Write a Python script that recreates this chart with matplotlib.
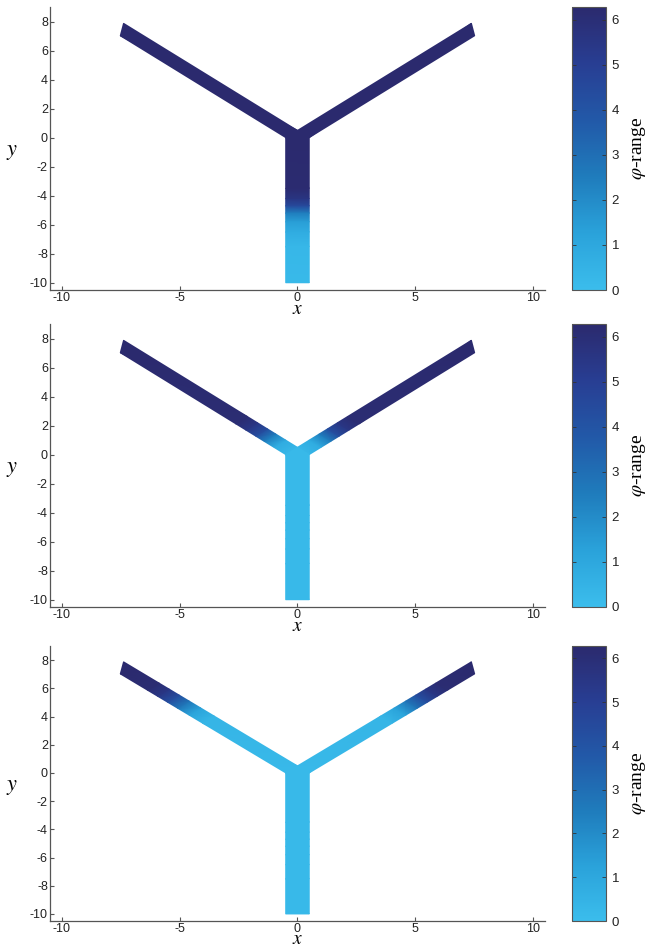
import numpy as np
import matplotlib
matplotlib.use('Agg')
import matplotlib.pyplot as plt
from matplotlib.colors import LinearSegmentedColormap
from matplotlib.tri import Triangulation

plt.rcParams['font.family'] = ['Liberation Sans', 'DejaVu Sans']
plt.rcParams['mathtext.fontset'] = 'stix'
plt.rcParams['axes.unicode_minus'] = False

# phase values read along each edge (distance from the junction)
stem_s = [0, 3.5, 4.2, 4.7, 5.2, 5.8, 6.5, 7.5, 10]
stem_phi = [
    [6.28, 6.2, 5.6, 4.5, 2.5, 1.4, 0.8, 0.3, 0.2],
    [0.2, 0.2, 0.2, 0.2, 0.2, 0.2, 0.2, 0.2, 0.2],
    [0.2, 0.2, 0.2, 0.2, 0.2, 0.2, 0.2, 0.2, 0.2],
]
arm_s = [
    [0, 10.25],
    [0, 0.7, 1.3, 1.8, 2.4, 3.0, 10.25],
    [0, 5.0, 5.8, 6.5, 7.1, 7.7, 8.3, 10.25],
]
arm_phi = [
    [6.28, 6.28],
    [0.3, 0.8, 2.5, 4.3, 5.5, 6.1, 6.28],
    [0.2, 0.4, 1.2, 2.8, 4.3, 5.5, 6.1, 6.28],
]
cbar_ticks = [0, 1, 2, 3, 4, 5, 6]
xticks = [-10, -5, 0, 5, 10]
yticks = [-10, -8, -6, -4, -2, 0, 2, 4, 6, 8]

cmap = LinearSegmentedColormap.from_list(
    'phase', ['#3bbdec', '#2aa2da', '#1f7cbc', '#2259a8', '#283e93', '#2b2a6e'])
vmax = 2 * np.pi

# geometry of the star graph: start, end, half width, end-cap corners
edges = [
    ((0, 0), (0, -10), 0.5, None),
    ((-0.25, 0.25), (-7.45, 7.45), 0.3536, ((-7.38, 7.88), (-7.52, 7.02))),
    ((0.25, 0.25), (7.45, 7.45), 0.3536, ((7.38, 7.88), (7.52, 7.02))),
]


def strip(p0, p1, hw, cap, s, phi):
    p0 = np.array(p0, float)
    p1 = np.array(p1, float)
    L = np.linalg.norm(p1 - p0)
    u = (p1 - p0) / L
    n = np.array([-u[1], u[0]])
    xs, ys, cs, tris = [], [], [], []
    s = np.clip(np.array(s, float), 0, L)
    for i, (si, ph) in enumerate(zip(s, phi)):
        c = p0 + u * si
        pts = [c + n * hw, c - n * hw]
        if cap is not None and i == len(s) - 1:
            a, b = np.array(cap[0]), np.array(cap[1])
            pts = [a, b] if np.dot(a - c, n) > 0 else [b, a]
        for v in pts:
            xs.append(v[0])
            ys.append(v[1])
            cs.append(ph)
        if i > 0:
            a = 2 * (i - 1)
            tris.append([a, a + 1, a + 2])
            tris.append([a + 1, a + 3, a + 2])
    return np.array(xs), np.array(ys), np.array(tris), np.array(cs)


fig = plt.figure(figsize=(6.59, 9.49), dpi=100)
rows = [(0.6944, 0.2982), (0.3604, 0.2982), (0.0295, 0.2898)]

for k, (b, h) in enumerate(rows):
    ax = fig.add_axes([0.0759, b, 0.751, h])
    cax = fig.add_axes([0.868, b, 0.0516, h])

    parts = [(edges[0], stem_s, stem_phi[k]),
             (edges[1], arm_s[k], arm_phi[k]),
             (edges[2], arm_s[k], arm_phi[k])]
    for (p0, p1, hw, cap), s, phi in parts:
        x, y, t, c = strip(p0, p1, hw, cap, s, phi)
        ax.tripcolor(Triangulation(x, y, t), c, shading='gouraud',
                     cmap=cmap, vmin=0, vmax=vmax, antialiased=True)
    # junction wedge
    jx = np.array([-0.5, 0.5, 0.0])
    jy = np.array([0.0, 0.0, 0.5])
    m = ax.tripcolor(Triangulation(jx, jy, [[0, 1, 2]]),
                     np.full(3, stem_phi[k][0]), shading='gouraud',
                     cmap=cmap, vmin=0, vmax=vmax)

    ax.set_xlim(-10.5, 10.5)
    ax.set_ylim(-10.5, 9)
    ax.set_xticks(xticks)
    ax.set_yticks(yticks)
    for sp in ['top', 'right']:
        ax.spines[sp].set_visible(False)
    for sp in ['left', 'bottom']:
        ax.spines[sp].set_color('#555555')
        ax.spines[sp].set_linewidth(0.9)
    ax.tick_params(direction='in', length=3, width=0.8, color='#555555',
                   labelsize=9, labelcolor='#222222', pad=1.5)
    ax.set_xlabel(r'$x$', fontsize=14, va='center')
    ax.xaxis.set_label_coords(0.5, -0.068)
    ax.set_ylabel(r'$y$', fontsize=16, rotation=0, ha='center', va='center')
    ax.yaxis.set_label_coords(-0.077, 0.49)

    cb = fig.colorbar(m, cax=cax)
    cb.set_ticks(cbar_ticks)
    cb.outline.set_edgecolor('#555555')
    cb.outline.set_linewidth(0.8)
    cax.tick_params(direction='in', length=3, width=0.6, color='#333333',
                    left=True, right=True, labelsize=9.5, labelcolor='#222222', pad=4)
    cb.set_label(r'$\varphi$-range', family=['Liberation Serif', 'DejaVu Serif'],
                 fontsize=14, labelpad=8)

fig.savefig('out.png', dpi=100)
